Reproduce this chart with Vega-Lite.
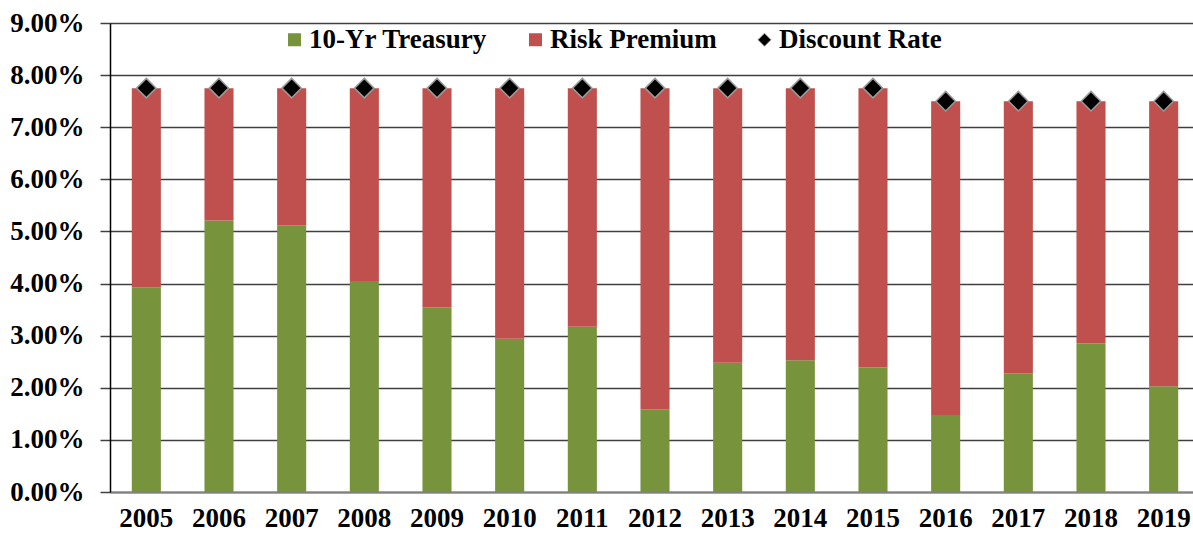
{
  "$schema": "https://vega.github.io/schema/vega-lite/v6.json",
  "width": 1090,
  "height": 469,
  "autosize": {"type": "none"},
  "padding": {"left": 110, "top": 23, "right": 0, "bottom": 43},
  "background": "white",
  "config": {
    "view": {"stroke": null},
    "font": "Liberation Serif",
    "axis": {"labelFont": "Liberation Serif", "labelFontWeight": "bold", "labelFontSize": 27, "labelColor": "black", "labelOverlap": false, "labelBound": false, "labelFlush": false},
    "legend": {"labelFont": "Liberation Serif", "labelFontWeight": "bold", "labelFontSize": 27, "labelColor": "black", "labelLimit": 0}
  },
  "data": {
    "values": [
      {"year": "2005", "series": "10-Yr Treasury", "value": 0.0393},
      {"year": "2005", "series": "Risk Premium", "value": 0.0382},
      {"year": "2005", "series": "Discount Rate", "value": 0.0775},
      {"year": "2006", "series": "10-Yr Treasury", "value": 0.0521},
      {"year": "2006", "series": "Risk Premium", "value": 0.0254},
      {"year": "2006", "series": "Discount Rate", "value": 0.0775},
      {"year": "2007", "series": "10-Yr Treasury", "value": 0.0512},
      {"year": "2007", "series": "Risk Premium", "value": 0.0263},
      {"year": "2007", "series": "Discount Rate", "value": 0.0775},
      {"year": "2008", "series": "10-Yr Treasury", "value": 0.0405},
      {"year": "2008", "series": "Risk Premium", "value": 0.0370},
      {"year": "2008", "series": "Discount Rate", "value": 0.0775},
      {"year": "2009", "series": "10-Yr Treasury", "value": 0.0354},
      {"year": "2009", "series": "Risk Premium", "value": 0.0421},
      {"year": "2009", "series": "Discount Rate", "value": 0.0775},
      {"year": "2010", "series": "10-Yr Treasury", "value": 0.0294},
      {"year": "2010", "series": "Risk Premium", "value": 0.0481},
      {"year": "2010", "series": "Discount Rate", "value": 0.0775},
      {"year": "2011", "series": "10-Yr Treasury", "value": 0.0317},
      {"year": "2011", "series": "Risk Premium", "value": 0.0458},
      {"year": "2011", "series": "Discount Rate", "value": 0.0775},
      {"year": "2012", "series": "10-Yr Treasury", "value": 0.0159},
      {"year": "2012", "series": "Risk Premium", "value": 0.0616},
      {"year": "2012", "series": "Discount Rate", "value": 0.0775},
      {"year": "2013", "series": "10-Yr Treasury", "value": 0.0248},
      {"year": "2013", "series": "Risk Premium", "value": 0.0527},
      {"year": "2013", "series": "Discount Rate", "value": 0.0775},
      {"year": "2014", "series": "10-Yr Treasury", "value": 0.0253},
      {"year": "2014", "series": "Risk Premium", "value": 0.0522},
      {"year": "2014", "series": "Discount Rate", "value": 0.0775},
      {"year": "2015", "series": "10-Yr Treasury", "value": 0.0239},
      {"year": "2015", "series": "Risk Premium", "value": 0.0536},
      {"year": "2015", "series": "Discount Rate", "value": 0.0775},
      {"year": "2016", "series": "10-Yr Treasury", "value": 0.0148},
      {"year": "2016", "series": "Risk Premium", "value": 0.0602},
      {"year": "2016", "series": "Discount Rate", "value": 0.0750},
      {"year": "2017", "series": "10-Yr Treasury", "value": 0.0228},
      {"year": "2017", "series": "Risk Premium", "value": 0.0522},
      {"year": "2017", "series": "Discount Rate", "value": 0.0750},
      {"year": "2018", "series": "10-Yr Treasury", "value": 0.0285},
      {"year": "2018", "series": "Risk Premium", "value": 0.0465},
      {"year": "2018", "series": "Discount Rate", "value": 0.0750},
      {"year": "2019", "series": "10-Yr Treasury", "value": 0.0203},
      {"year": "2019", "series": "Risk Premium", "value": 0.0547},
      {"year": "2019", "series": "Discount Rate", "value": 0.0750}
    ]
  },
  "encoding": {
    "x": {
      "field": "year", "type": "nominal", "title": null,
      "scale": {"paddingInner": 0.6, "paddingOuter": 0.3},
      "axis": {"labelAngle": 0, "ticks": false, "domain": true, "domainColor": "#808080", "domainWidth": 2, "labelPadding": 13, "grid": false}
    },
    "y": {
      "field": "value", "type": "quantitative", "title": null,
      "scale": {"domain": [0, 0.09], "nice": false},
      "axis": {"format": ".2%", "values": [0, 0.01, 0.02, 0.03, 0.04, 0.05, 0.06, 0.07, 0.08, 0.09], "grid": true, "gridColor": "#404040", "gridWidth": 1.5, "domain": true, "domainColor": "black", "domainWidth": 1.5, "ticks": true, "tickSize": 10, "tickColor": "#404040", "tickWidth": 1.5, "labelPadding": 16}
    },
    "color": {
      "field": "series", "type": "nominal", "title": null,
      "scale": {"domain": ["10-Yr Treasury", "Risk Premium", "Discount Rate"], "range": ["#77933C", "#C0504D", "#000000"]},
      "legend": {
        "orient": "none", "direction": "horizontal", "legendX": 171, "legendY": 3,
        "symbolSize": 169, "symbolStrokeWidth": 0, "labelOffset": 1, "columnPadding": 34,
        "encode": {
          "symbols": {"update": {
            "shape": {"signal": "datum.value === 'Discount Rate' ? 'diamond' : 'square'"},
            "stroke": {"signal": "datum.value === 'Discount Rate' ? '#999999' : null"},
            "strokeWidth": {"signal": "datum.value === 'Discount Rate' ? 1 : 0"}
          }}
        }
      }
    }
  },
  "layer": [
    {
      "mark": {"type": "bar"},
      "transform": [{"filter": "datum.series !== 'Discount Rate'"}, {"calculate": "datum.series === '10-Yr Treasury' ? 0 : 1", "as": "ord"}],
      "encoding": {
        "order": {"field": "ord", "type": "quantitative"}
      }
    },
    {
      "mark": {"type": "point", "shape": "diamond", "filled": true, "size": 380, "stroke": "#999999", "strokeWidth": 1.5, "opacity": 1},
      "transform": [{"filter": "datum.series === 'Discount Rate'"}]
    }
  ]
}
